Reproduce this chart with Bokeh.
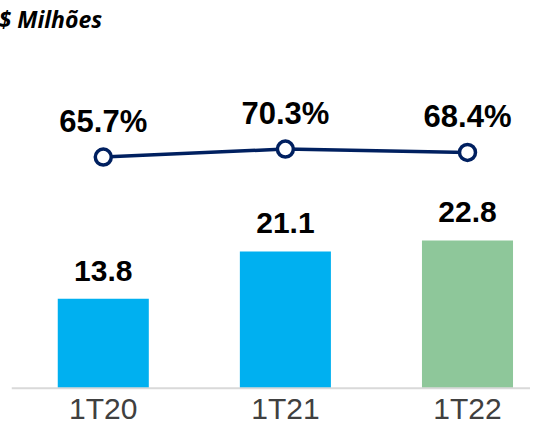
from bokeh.plotting import figure
from bokeh.models import Range1d, ColumnDataSource, Title, Span
from bokeh.core.properties import value
from bokeh.embed import file_html
from bokeh.resources import INLINE

categories = ["1T20", "1T21", "1T22"]
values = [13.8, 21.1, 22.8]
margins = [65.7, 70.3, 68.4]
bar_colors = ["#00B0F0", "#00B0F0", "#8EC79A"]

value_labels = [f"{v:.1f}" for v in values]
margin_labels = [f"{m:.1f}%" for m in margins]
idx = list(range(len(categories)))

src = ColumnDataSource(dict(x=idx, v=values, m=margins, c=bar_colors,
                            vl=value_labels, ml=margin_labels, cat=categories))

W, H = 530, 427

p = figure(width=W, height=H, output_backend="svg", toolbar_location=None,
           x_range=Range1d(-0.504, 2.346), y_range=Range1d(-6.05, 54.57),
           x_axis_location=None, y_axis_location=None,
           min_border_left=11, min_border_right=0,
           min_border_top=0, min_border_bottom=0)
p.extra_y_ranges = {"pct": Range1d(-88.9, 135.8)}

p.title = Title(text="$ Milhões", align="left", text_font="Open Sans",
                text_font_style="bold italic", text_font_size="23px",
                text_color="#000000", standoff=0, offset=-13)

p.grid.visible = False
p.outline_line_color = None
p.background_fill_color = "white"
p.border_fill_color = "white"

p.add_layout(Span(location=0, dimension="width", line_color="#D9D9D9", line_width=2))

p.vbar(x="x", top="v", bottom=0, width=0.5, fill_color="c", line_color=None, source=src)
p.text(x="x", y="v", text="vl", y_offset=-28, text_align="center", text_baseline="middle",
       text_font=value("Liberation Sans"), text_font_style="bold", text_font_size="30px",
       text_color="#000000", source=src)

p.text(x="x", y=0, text="cat", y_offset=20, text_align="center", text_baseline="middle",
       text_font=value("Liberation Sans"), text_font_size="30px",
       text_color="#404040", source=src)

p.line(x="x", y="m", y_range_name="pct", line_color="#002060",
       line_width=3.5, source=src)
p.scatter(x="x", y="m", y_range_name="pct", size=16,
          fill_color="white", line_color="#002060", line_width=3.5, source=src)
p.text(x="x", y="m", text="ml", y_range_name="pct", y_offset=-36,
       text_align="center", text_baseline="middle",
       text_font=value("Liberation Sans"), text_font_style="bold", text_font_size="31px",
       text_color="#000000", source=src)

open("out.html", "w").write(file_html(p, INLINE))
